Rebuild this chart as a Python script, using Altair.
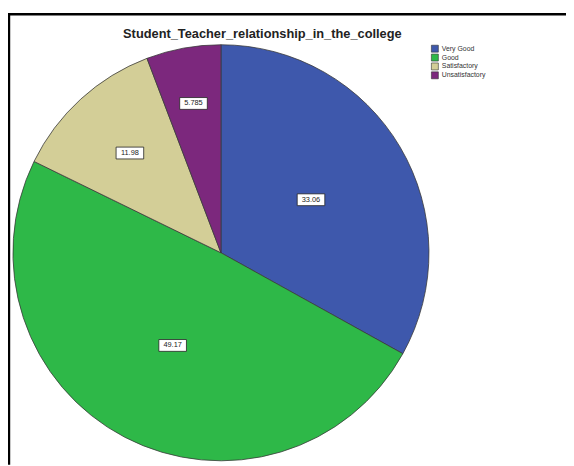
import altair as alt
import pandas as pd

categories = ["Very Good", "Good", "Satisfactory", "Unsatisfactory"]
percents = [33.06, 49.17, 11.98, 5.785]
label_texts = ["33.06", "49.17", "11.98", "5.785"]
colors = ["#3E58AC", "#2EB848", "#D3CE97", "#7C287D"]
title_text = "Student_Teacher_relationship_in_the_college"

df = pd.DataFrame({
    "category": categories,
    "value": percents,
    "label": label_texts,
    "order": list(range(len(categories))),
})

CX, CY, R = 216, 245, 211
FONT = "Liberation Sans"

base = alt.Chart(df)

pie = base.mark_arc(outerRadius=R, stroke="#3a3a3a", strokeWidth=0.8).encode(
    theta=alt.Theta("value:Q", stack=True),
    order=alt.Order("order:Q"),
    color=alt.Color(
        "category:N",
        sort=categories,
        scale=alt.Scale(domain=categories, range=colors),
        legend=alt.Legend(
            title=None, orient="none", legendX=429, legendY=34,
            symbolType="square", symbolSize=50, symbolStrokeWidth=0.6,
            symbolStrokeColor="#333",
            labelFontSize=7, labelFont=FONT, labelColor="#333",
            rowPadding=-3, padding=0, labelOffset=3,
        ),
    ),
    x=alt.value(CX), y=alt.value(CY),
)

pos = base.transform_window(
    cum="sum(value)", sort=[alt.SortField("order")], frame=[None, 0]
).transform_joinaggregate(total="sum(value)").transform_calculate(
    mid="(datum.cum - datum.value / 2) / datum.total * 2 * PI",
    lr="datum.value > 30 ? 106 : (datum.value > 10 ? 137 : 154)",
).transform_calculate(
    lx=f"{CX} + datum.lr * sin(datum.mid)",
    ly=f"{CY} - datum.lr * cos(datum.mid)",
).transform_calculate(
    bx1="datum.lx - 14", bx2="datum.lx + 14",
    by1="datum.ly - 6", by2="datum.ly + 6",
)

boxes = pos.mark_rect(fill="white", stroke="#222", strokeWidth=0.8).encode(
    x=alt.X("bx1:Q", scale=None), x2="bx2:Q",
    y=alt.Y("by1:Q", scale=None), y2="by2:Q",
)

texts = pos.mark_text(fontSize=7.5, font=FONT, color="#222").encode(
    x=alt.X("lx:Q", scale=None), y=alt.Y("ly:Q", scale=None),
    text="label:N",
)

title = alt.Chart(pd.DataFrame({"t": [title_text]})).mark_text(
    fontSize=13, fontWeight="bold", font=FONT, color="#222"
).encode(x=alt.value(258), y=alt.value(23), text="t:N")

frame_left = alt.Chart(pd.DataFrame({"a": [0]})).mark_rule(
    color="black", strokeWidth=2.5
).encode(x=alt.value(1), y=alt.value(3), y2=alt.value(460))
frame_top = alt.Chart(pd.DataFrame({"a": [0]})).mark_rule(
    color="black", strokeWidth=2.5
).encode(x=alt.value(0), x2=alt.value(566), y=alt.value(3))

chart = alt.layer(pie, boxes, texts, title, frame_left, frame_top).properties(
    width=566, height=458,
    autosize=alt.AutoSizeParams(type="none"),
    padding=0,
).configure_view(stroke=None)

chart.save("out.html", embed_options={"renderer": "svg", "actions": False})
